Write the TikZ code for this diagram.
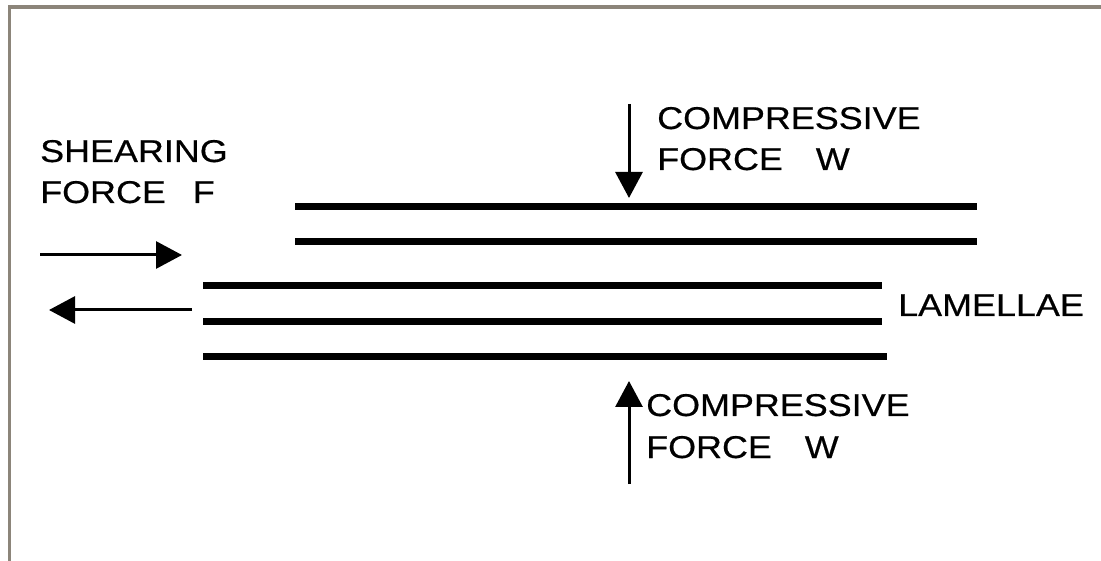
\documentclass[tikz,border=0pt]{standalone}
\usepackage{fontspec}
\newfontfamily\labfont[FakeStretch=1.14,FakeBold=0.5]{Liberation Sans}
\usetikzlibrary{arrows.meta}
\definecolor{frame}{RGB}{140,133,122}
\tikzset{
  lbl/.style={inner sep=0pt, anchor=base west, font=\labfont\fontsize{31.5}{36}\selectfont},
  plate/.style={line width=7pt},
  force/.style={line width=3pt, -{Triangle[length=26pt,width=27pt]}},
}
\begin{document}
\begin{tikzpicture}[x=1pt,y=-1pt]
  \useasboundingbox[fill=white] (0,0) rectangle (1101,561);
  % frame (top and left edges)
  \draw[frame, line width=3.5pt] (9.7,561) -- (9.7,7) -- (1101,7);

  % lamellae
  \coordinate (t1a) at (295,207); \coordinate (t1b) at (977,207);
  \coordinate (t2a) at (295,242); \coordinate (t2b) at (977,242);
  \coordinate (l1a) at (203,286); \coordinate (l1b) at (882,286);
  \coordinate (l2a) at (203,322); \coordinate (l2b) at (882,322);
  \coordinate (l3a) at (203,357); \coordinate (l3b) at (887,357);
  \draw[plate] (t1a) -- (t1b);
  \draw[plate] (t2a) -- (t2b);
  \draw[plate] (l1a) -- (l1b);
  \draw[plate] (l2a) -- (l2b);
  \draw[plate] (l3a) -- (l3b);

  % shearing forces
  \coordinate (sh1a) at (40,255);  \coordinate (sh1b) at (182,255);
  \coordinate (sh2a) at (192,310); \coordinate (sh2b) at (49,310);
  \draw[force] (sh1a) -- (sh1b);
  \draw[force] (sh2a) -- (sh2b);

  % compressive forces
  \coordinate (cw1a) at (629,104); \coordinate (cw1b) at (629,198);
  \coordinate (cw2a) at (629,484); \coordinate (cw2b) at (629,381);
  \draw[force] (cw1a) -- (cw1b);
  \draw[force] (cw2a) -- (cw2b);

  % labels
  \node[lbl] (shA) at (40,162) {SHEARING};
  \node[lbl] (shB) at (40,203) {FORCE\hspace{17pt} F};
  \node[lbl] (cpA) at (657,129) {COMPRESSIVE};
  \node[lbl] (cpB) at (657,170) {FORCE\hspace{23pt} W};
  \node[lbl] (lam) at (898,316) {LAMELLAE};
  \node[lbl] (cqA) at (646,416) {COMPRESSIVE};
  \node[lbl] (cqB) at (646,458) {FORCE\hspace{23pt} W};
\end{tikzpicture}
\end{document}
